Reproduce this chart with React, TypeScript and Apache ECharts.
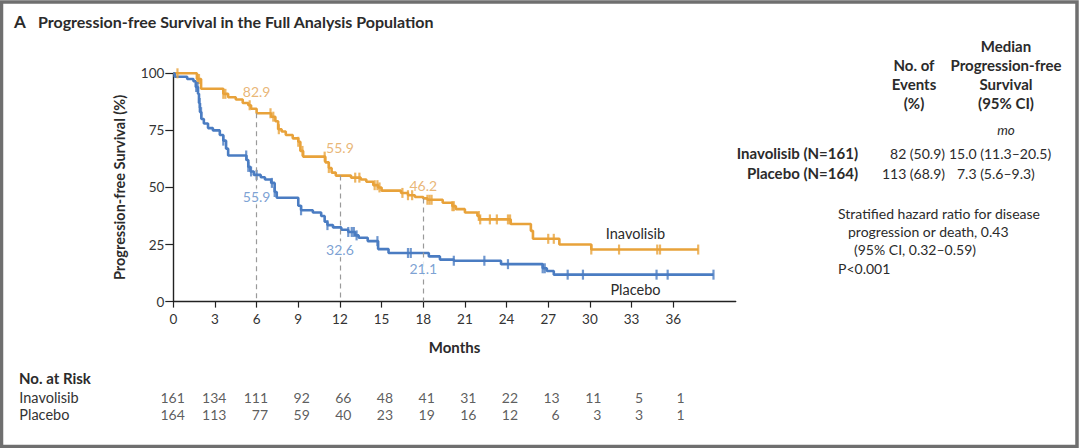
import React, { useEffect, useRef } from "react";
import * as echarts from "echarts";

const months = [0, 3, 6, 9, 12, 15, 18, 21, 24, 27, 30, 33, 36];
const invAtRisk = [161, 134, 111, 92, 66, 48, 41, 31, 22, 13, 11, 5, 1];
const plcAtRisk = [164, 113, 77, 59, 40, 23, 19, 16, 12, 6, 3, 3, 1];

const invSteps: number[][] = [
  [0, 100], [1.7, 97.5], [2.0, 93.2], [3.6, 91], [3.95, 89.5], [4.5, 88.5], [5.0, 87], [5.4, 86],
  [5.6, 84.5], [6.0, 82.5], [7.05, 81], [7.35, 79], [7.55, 75.5], [7.8, 74.5], [8.1, 73], [8.6, 71.5],
  [9.0, 70], [9.15, 66], [9.35, 63.5], [10.95, 61], [11.2, 58.5], [11.4, 56.5], [11.7, 55.2],
  [12.8, 54.3], [13.5, 53.5], [13.9, 52.5], [14.4, 51], [14.75, 50], [15.0, 48.6], [16.4, 47.6],
  [16.9, 46.6], [17.4, 45.8], [18.0, 45.2], [18.3, 44.6], [19.4, 43.3], [20.1, 41.8], [20.35, 40.5],
  [21.0, 39], [21.9, 37.5], [22.05, 36], [24.3, 34], [25.75, 31], [25.9, 27.5], [27.8, 25],
  [30.1, 22.8], [37.8, 22.8],
];
const plcSteps: number[][] = [
  [0, 100], [0.1, 98.5], [1.0, 97.5], [1.45, 96.5], [1.62, 94], [1.78, 91], [1.85, 87], [1.92, 83],
  [2.02, 80], [2.2, 78], [2.5, 76], [2.85, 75], [3.35, 73], [3.6, 70.5], [3.8, 67], [3.95, 64],
  [5.27, 62], [5.4, 59], [5.55, 57], [5.8, 55.5], [6.3, 54.5], [6.6, 53.5], [7.05, 52], [7.3, 48],
  [7.45, 45.5], [9.0, 42], [9.2, 40], [10.05, 39], [10.65, 37.5], [10.9, 35], [11.1, 33.5],
  [11.5, 32.5], [12.1, 31.5], [12.6, 30.5], [13.1, 29], [13.35, 28], [14.0, 26.5], [14.75, 23],
  [15.5, 21.3], [18.4, 19.8], [19.2, 18.4], [20.2, 17.9], [23.6, 16.4], [26.6, 14.6], [26.9, 13.4],
  [27.4, 11.8], [38.9, 11.8],
];
const invCensor = [0.3, 1.75, 1.85, 3.6, 3.75, 5.5, 7.0, 7.2, 7.6, 9.0, 9.3, 10.9, 11.2, 13.1, 13.4,
  14.5, 14.7, 14.85, 16.5, 16.9, 17.2, 18.3, 18.45, 18.6, 20.1, 20.2, 22.0, 22.1, 22.8, 23.3, 24.1,
  24.25, 27.0, 27.4, 30.1, 32.1, 34.85, 35.05, 37.8];
const plcCensor = [1.65, 1.75, 1.9, 2.0, 3.6, 5.25, 5.4, 5.6, 6.0, 7.1, 7.3, 9.2, 11.1, 12.6, 12.85,
  13.0, 13.2, 14.7, 16.9, 17.1, 20.2, 22.4, 24.1, 26.6, 26.75, 28.4, 29.5, 34.8, 35.6, 38.9];

const landmarkMonths = [6, 12, 18];
const invLandmark = [82.9, 55.9, 46.2];
const plcLandmark = [55.9, 32.6, 21.1];

const ORANGE = "#E8A23A";
const BLUE = "#4A7CC2";
const ORANGE_T = "#E3A453";
const BLUE_T = "#5A89C8";
const TXT = "#2b2b2b";
const FONT = "Lato, 'Open Sans', sans-serif";

function stepValue(steps: number[][], t: number): number {
  let v = steps[0][1];
  for (const [x, y] of steps) {
    if (x <= t) v = y;
    else break;
  }
  return v;
}

export default function App() {
  const ref = useRef<HTMLDivElement>(null);
  useEffect(() => {
    document.body.style.margin = "0";
    const chart = echarts.init(ref.current!, null, { renderer: "svg" });
    const invLabelOffsets = [-20.5, -26.5, -11];
    const plcLabelOffsets = [22.5, 22, 15];
    const txt = (text: string, x: number, y: number, o: any = {}) => ({
      type: "text",
      x,
      y,
      style: {
        text,
        fill: TXT,
        font: `${o.italic ? "italic " : ""}${o.bold ? "bold " : ""}${o.size || 14}px ${FONT}`,
        textAlign: o.align || "left",
        textVerticalAlign: "middle",
      },
    });
    const option: any = {
      animation: false,
      textStyle: { fontFamily: FONT },
      grid: [
        { left: 173.3, top: 73.3, width: 562.4, height: 228.3 },
        { left: 173.3, top: 388.5, width: 562.4, height: 34 },
      ],
      xAxis: [
        {
          type: "value",
          gridIndex: 0,
          min: 0,
          max: 40.5,
          interval: 3,
          axisLine: { show: true, lineStyle: { color: "#222", width: 1.4 } },
          axisTick: { show: true, length: 6, customValues: months, lineStyle: { color: "#222", width: 1.2 } },
          axisLabel: { customValues: months, margin: 10, fontSize: 13.5, color: "#333", fontFamily: FONT },
          splitLine: { show: false },
          name: "Months",
          nameLocation: "middle",
          nameGap: 38,
          nameTextStyle: { fontWeight: "bold", fontSize: 15, color: TXT, fontFamily: FONT },
        },
        { type: "value", gridIndex: 1, min: 0, max: 40.5, show: false },
      ],
      yAxis: [
        {
          type: "value",
          gridIndex: 0,
          min: 0,
          max: 100,
          interval: 25,
          axisLine: { show: true, lineStyle: { color: "#222", width: 1.4 } },
          axisTick: { show: true, length: 8, lineStyle: { color: "#222", width: 1.2 } },
          axisLabel: { margin: 9, fontSize: 13.5, color: "#333", fontFamily: FONT },
          splitLine: { show: false },
          name: "Progression-free Survival (%)",
          nameLocation: "middle",
          nameGap: 46,
          nameTextStyle: { fontWeight: "bold", fontSize: 14.5, color: TXT, fontFamily: FONT },
        },
        {
          type: "category",
          gridIndex: 1,
          data: ["Inavolisib", "Placebo"],
          inverse: true,
          axisLine: { show: false },
          axisTick: { show: false },
          axisLabel: { interval: 0, align: "left", margin: 154, fontSize: 14.5, color: "#333", fontFamily: FONT },
          splitLine: { show: false },
        },
      ],
      series: [
        {
          type: "line",
          data: [],
          z: 1,
          silent: true,
          markLine: {
            silent: true,
            symbol: ["none", "none"],
            label: { show: false },
            lineStyle: { type: [5, 4], color: "#9a9a9a", width: 1.2 },
            data: landmarkMonths.map((m) => [
              { coord: [m, stepValue(invSteps, m)] },
              { coord: [m, 0] },
            ]),
          },
        },
        {
          name: "Inavolisib",
          type: "line",
          step: "end",
          data: invSteps,
          symbol: "none",
          z: 3,
          lineStyle: { color: ORANGE, width: 2.6 },
        },
        {
          name: "Placebo",
          type: "line",
          step: "end",
          data: plcSteps,
          symbol: "none",
          z: 3,
          lineStyle: { color: BLUE, width: 2.6 },
        },
        {
          type: "scatter",
          data: invCensor.map((t) => [t, stepValue(invSteps, t)]),
          symbol: "rect",
          symbolSize: [2.2, 10],
          itemStyle: { color: ORANGE },
          z: 4,
        },
        {
          type: "scatter",
          data: plcCensor.map((t) => [t, stepValue(plcSteps, t)]),
          symbol: "rect",
          symbolSize: [2.2, 10],
          itemStyle: { color: BLUE },
          z: 4,
        },
        {
          type: "scatter",
          symbolSize: 0,
          z: 5,
          data: [
            ...landmarkMonths.map((m, i) => ({
              value: [m, invLandmark[i]],
              label: { offset: [0, invLabelOffsets[i]], color: ORANGE_T },
            })),
            ...landmarkMonths.map((m, i) => ({
              value: [m, plcLandmark[i]],
              label: {
                offset: [0, plcLabelOffsets[i]],
                color: BLUE_T,
                backgroundColor: "#ffffff",
                padding: [1, 1],
              },
            })),
          ],
          label: {
            show: true,
            position: "inside",
            fontSize: 14,
            fontFamily: FONT,
            formatter: (p: any) => p.value[1].toFixed(1),
          },
        },
        {
          type: "scatter",
          xAxisIndex: 1,
          yAxisIndex: 1,
          symbolSize: 0,
          data: [
            ...months.map((m, i) => [m, 0, invAtRisk[i]]),
            ...months.map((m, i) => [m, 1, plcAtRisk[i]]),
          ],
          label: {
            show: true,
            position: "inside",
            align: "right",
            offset: [11.5, 0],
            fontSize: 14,
            color: "#333",
            fontFamily: FONT,
            formatter: (p: any) => String(p.value[2]),
          },
        },
      ],
      graphic: [
        {
          type: "rect",
          shape: { x: 1.5, y: 2, width: 1075.5, height: 444.5 },
          style: { fill: "none", stroke: "#6f6f6f", lineWidth: 3.5 },
          silent: true,
        },
        txt("A", 14, 21, { bold: true, size: 17 }),
        txt("Progression-free Survival in the Full Analysis Population", 38, 21, { bold: true, size: 16 }),
        txt("Inavolisib", 635.5, 233, { align: "center", size: 14.5 }),
        txt("Placebo", 635.5, 289, { align: "center", size: 14.5 }),
        txt("No. at Risk", 19, 378, { bold: true, size: 15 }),
        txt("Median", 1006, 46, { bold: true, size: 15, align: "center" }),
        txt("No. of", 914, 65, { bold: true, size: 15, align: "center" }),
        txt("Progression-free", 1006, 65, { bold: true, size: 15, align: "center" }),
        txt("Events", 914, 84, { bold: true, size: 15, align: "center" }),
        txt("Survival", 1006, 84, { bold: true, size: 15, align: "center" }),
        txt("(%)", 914, 103, { bold: true, size: 15, align: "center" }),
        txt("(95% CI)", 1006, 103, { bold: true, size: 15, align: "center" }),
        txt("mo", 1006, 130, { italic: true, size: 13.5, align: "center" }),
        txt("Inavolisib (N=161)", 858, 153, { bold: true, size: 15, align: "right" }),
        txt("82 (50.9)", 945, 153, { size: 14, align: "right" }),
        txt("15.0 (11.3–20.5)", 949, 153, { size: 14 }),
        txt("Placebo (N=164)", 858, 173, { bold: true, size: 15, align: "right" }),
        txt("113 (68.9)", 945, 173, { size: 14, align: "right" }),
        txt("7.3 (5.6–9.3)", 957, 173, { size: 14 }),
        txt("Stratified hazard ratio for disease", 838, 213, { size: 14 }),
        txt("progression or death, 0.43", 848, 231, { size: 14 }),
        txt("(95% CI, 0.32–0.59)", 854, 249, { size: 14 }),
        txt("P<0.001", 838, 268, { size: 14 }),
      ],
    };
    chart.setOption(option);
    return () => chart.dispose();
  }, []);
  return <div ref={ref} style={{ width: 1080, height: 448 }} />;
}
